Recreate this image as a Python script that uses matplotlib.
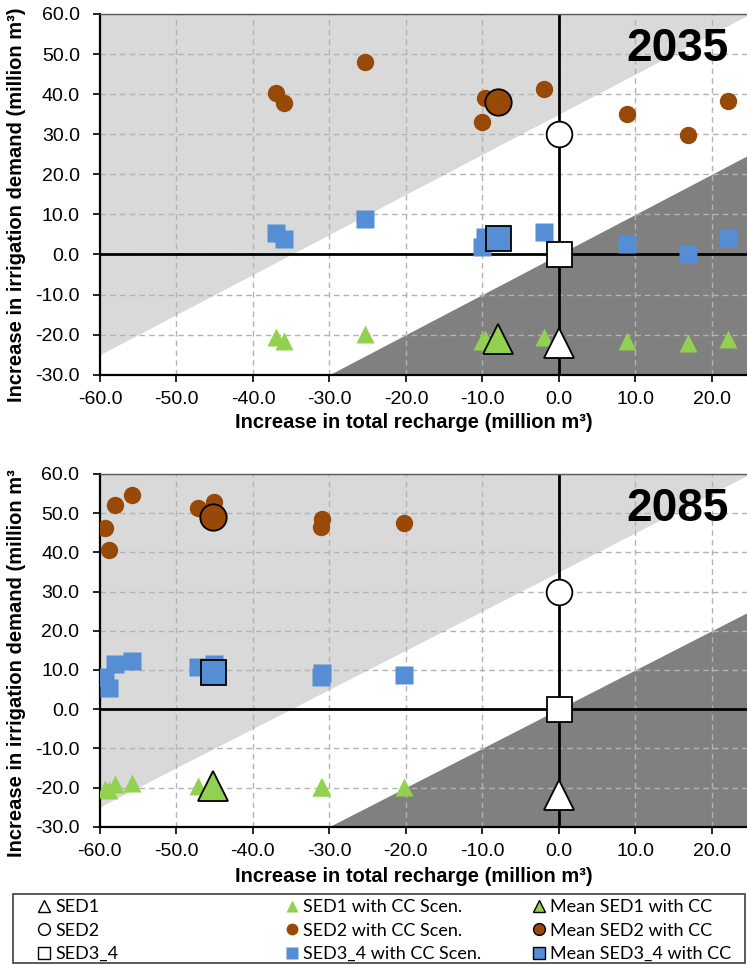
import numpy as np
import matplotlib.pyplot as plt
from matplotlib.lines import Line2D
from matplotlib.patches import Rectangle

plt.rcParams["font.family"] = ["Liberation Sans", "DejaVu Sans"]
plt.rcParams["axes.unicode_minus"] = False

GREEN = "#92D050"
BROWN = "#984807"
BLUE = "#558ED5"

# baseline (no climate change) at zero recharge change
base_recharge = 0.0
base_sed1 = -22.0
base_sed2 = 30.0
base_sed34 = 0.0

# one entry per climate change scenario
recharge_2035 = [-37.0, -35.9, -25.4, -10.0, -9.7, -1.9, 8.9, 16.9, 22.1]
sed1_2035 = [-20.7, -21.5, -19.8, -21.5, -21.0, -20.7, -21.5, -22.2, -21.1]
sed2_2035 = [40.3, 37.7, 48.1, 33.1, 39.1, 41.2, 35.0, 29.9, 38.2]
sed34_2035 = [5.4, 3.8, 8.9, 1.8, 4.3, 5.6, 2.7, 0.0, 4.1]

recharge_2085 = [-59.3, -58.7, -58.0, -55.8, -47.1, -45.1, -31.1, -30.9, -20.2]
sed1_2085 = [-20.3, -20.7, -19.1, -18.9, -19.5, -19.3, -19.9, -19.9, -19.9]
sed2_2085 = [46.3, 40.5, 52.1, 54.7, 51.4, 52.8, 46.5, 48.4, 47.4]
sed34_2085 = [8.2, 5.4, 11.4, 12.4, 10.7, 11.4, 8.3, 9.3, 8.6]

# shaded zones: demand above recharge + 35 (light), demand below recharge (dark)
upper_offset = 35.0
lower_offset = 0.0

XMIN, XMAX = -60, 25
YMIN, YMAX = -30, 60

W, H = 747, 965


def draw_panel(ax, year, recharge, sed1, sed2, sed34):
    xs = np.array([XMIN - 10, XMAX])
    ax.fill_between(xs, xs + upper_offset, YMAX, color="#d9d9d9", lw=0, zorder=0)
    xd = np.array([YMIN - lower_offset, XMAX])
    ax.fill_between(xd, YMIN, xd + lower_offset, color="#808080", lw=0, zorder=0)

    ax.set_xlim(XMIN, XMAX)
    ax.set_ylim(YMIN, YMAX)
    ax.set_xticks(np.arange(-60, 21, 10))
    ax.set_yticks(np.arange(-30, 61, 10))
    ax.set_xticklabels([f"{v:.1f}" for v in ax.get_xticks()])
    ax.set_yticklabels([f"{v:.1f}" for v in ax.get_yticks()])
    ax.tick_params(labelsize=14, length=5, width=1.2, direction="out")
    ax.tick_params(axis="x", pad=7)
    ax.tick_params(axis="y", pad=9.5)
    ax.set_axisbelow(True)
    ax.grid(True, ls=(0, (4, 3)), color="#b3b3b3", lw=1.0)

    for s in ("left", "bottom"):
        ax.spines[s].set_linewidth(1.6)
        ax.spines[s].set_color("black")
    ax.spines["top"].set_color("#595959")
    ax.spines["top"].set_linewidth(1.0)
    ax.spines["right"].set_visible(False)

    ax.axhline(0, color="black", lw=2.0, zorder=2)
    ax.axvline(0, color="black", lw=2.0, zorder=2)

    # scenario points
    ax.plot(recharge, sed1, "^", ms=13.5, color=GREEN, mec="none", ls="none", zorder=3)
    ax.plot(recharge, sed2, "o", ms=12.5, color=BROWN, mec="none", ls="none", zorder=3)
    ax.plot(recharge, sed34, "s", ms=12.5, color=BLUE, mec="none", ls="none", zorder=3)

    # scenario means
    mx = np.mean(recharge)
    ax.plot(mx, np.mean(sed1), "^", ms=21, color=GREEN, mec="black", mew=1.3, zorder=4)
    ax.plot(mx, np.mean(sed2), "o", ms=19, color=BROWN, mec="black", mew=1.3, zorder=4)
    ax.plot(mx, np.mean(sed34), "s", ms=18, color=BLUE, mec="black", mew=1.3, zorder=4)

    # baseline without climate change
    ax.plot(base_recharge, base_sed1, "^", ms=21, color="white", mec="black", mew=1.3, zorder=5)
    ax.plot(base_recharge, base_sed2, "o", ms=18.5, color="white", mec="black", mew=1.3, zorder=5)
    ax.plot(base_recharge, base_sed34, "s", ms=18, color="white", mec="black", mew=1.3, zorder=5)

    ax.text(0.967, 0.963, year, transform=ax.transAxes, ha="right", va="top",
            fontsize=33, fontweight="bold", zorder=6)


fig = plt.figure(figsize=(W / 100, H / 100), dpi=100)

ax1 = fig.add_axes([100 / W, 1 - 374.7 / H, 650 / W, 360.7 / H])
ax2 = fig.add_axes([99.5 / W, 1 - 826.7 / H, 650.5 / W, 352.7 / H])

draw_panel(ax1, "2035", recharge_2035, sed1_2035, sed2_2035, sed34_2035)
draw_panel(ax2, "2085", recharge_2085, sed1_2085, sed2_2085, sed34_2085)

xlab = "Increase in total recharge (million m³)"
fig.text(414 / W, 1 - 422 / H, xlab, ha="center", va="center", fontsize=14.5, fontweight="bold")
fig.text(414 / W, 1 - 876 / H, xlab, ha="center", va="center", fontsize=14.5, fontweight="bold")
fig.text(17 / W, 1 - 205 / H, "Increase in irrigation demand (million m³)", rotation=90,
         ha="center", va="center", fontsize=14.5, fontweight="bold")
fig.text(17 / W, 1 - 663 / H, "Increase in irrigation demand (million m³", rotation=90,
         ha="center", va="center", fontsize=14.5, fontweight="bold")

# legend box with three columns
fig.patches.append(Rectangle((12.7 / W, 1 - 963 / H), (745 - 12.7) / W, (963 - 894) / H,
                             transform=fig.transFigure, fill=False, ec="#404040", lw=1.2))

cols = [
    [("^", "white", "black", "SED1"), ("o", "white", "black", "SED2"), ("s", "white", "black", "SED3_4")],
    [("^", GREEN, "none", "SED1 with CC Scen."), ("o", BROWN, "none", "SED2 with CC Scen."),
     ("s", BLUE, "none", "SED3_4 with CC Scen.")],
    [("^", GREEN, "black", "Mean SED1 with CC"), ("o", BROWN, "black", "Mean SED2 with CC"),
     ("s", BLUE, "black", "Mean SED3_4 with CC")],
]
col_x = [36, 284, 531]
for cx, entries in zip(col_x, cols):
    handles = [Line2D([], [], marker=m, ls="none", ms=8.5, mfc=fc, mec=ec, mew=1.0)
               for m, fc, ec, _ in entries]
    labels = [e[3] for e in entries]
    fig.legend(handles, labels, loc="upper left", bbox_to_anchor=(cx / W, 1 - 899 / H),
               frameon=False, handlelength=0.9, handletextpad=0.15, borderpad=0,
               borderaxespad=0, labelspacing=0.42, prop={"family": "Lato", "size": 13})

fig.savefig("out.png", dpi=100)
